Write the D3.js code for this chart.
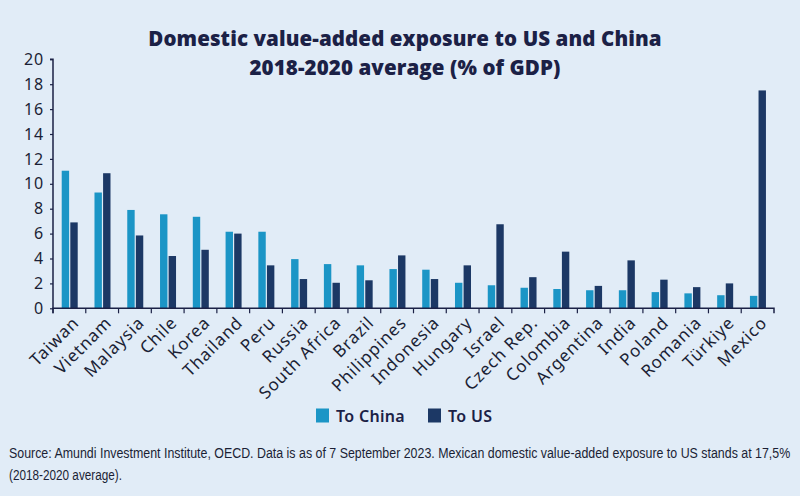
<!DOCTYPE html>
<html><head><meta charset="utf-8">
<script src="https://cdn.jsdelivr.net/npm/d3@7"></script>
<style>
body{margin:0;background:#e1ecf7;}
svg{display:block;}
</style></head>
<body>
<svg id="chart" width="800" height="496"></svg>
<script>
const categories = ["Taiwan","Vietnam","Malaysia","Chile","Korea","Thailand","Peru","Russia","South Africa","Brazil","Philippines","Indonesia","Hungary","Israel","Czech Rep.","Colombia","Argentina","India","Poland","Romania","Türkiye","Mexico"];
const toChina = [11.05,9.3,7.9,7.55,7.35,6.15,6.15,3.95,3.55,3.45,3.15,3.1,2.05,1.85,1.65,1.55,1.45,1.45,1.3,1.2,1.05,1.0];
const toUS = [6.9,10.85,5.85,4.2,4.7,6.0,3.45,2.35,2.05,2.25,4.25,2.35,3.45,6.75,2.5,4.55,1.8,3.85,2.3,1.7,2.0,17.5];
const yTicks = [0,2,4,6,8,10,12,14,16,18,20];
const seriesNames = ["To China","To US"];
const colors = ["#1b95c6","#1c3865"];

const svg = d3.select("#chart");
svg.append("rect").attr("width",800).attr("height",496).attr("fill","#e1ecf7");

const mLeft = 53, mRight = 774, mTop = 59.3, mBottom = 308.3;
const x = d3.scaleBand().domain(categories).range([mLeft, mRight]).padding(0);
const y = d3.scaleLinear().domain([0,20]).range([mBottom, mTop]);
const bw = x.bandwidth();
const barW = 7.4, gap = 1.2;
const navy = "#1b2146";

// title
[["Domestic value-added exposure to US and China",46],["2018-2020 average (% of GDP)",75]].forEach(([t,yy])=>{
  svg.append("text").attr("x",405).attr("y",yy).attr("text-anchor","middle")
    .attr("font-family","Open Sans").attr("font-weight","800").attr("font-size",20.5).attr("fill",navy)
    .attr("letter-spacing","0.1")
    .text(t);
});

// bars
const g = svg.append("g");
categories.forEach((c,i)=>{
  const cx = x(c) + bw*0.51;
  g.append("rect").attr("x",cx - gap/2 - barW).attr("y",y(toChina[i])).attr("width",barW)
    .attr("height",y(0)-y(toChina[i])).attr("fill",colors[0]);
  g.append("rect").attr("x",cx + gap/2).attr("y",y(toUS[i])).attr("width",barW)
    .attr("height",y(0)-y(toUS[i])).attr("fill",colors[1]);
});

// y axis
const yAxis = d3.axisLeft(y).tickValues(yTicks).tickSize(3).tickPadding(6).tickFormat(d3.format("d"));
const ya = svg.append("g").attr("transform",`translate(${mLeft},0)`).call(yAxis);
ya.select(".domain").attr("stroke",navy).attr("stroke-width",1.5).attr("d",`M-3,${mTop}H0V${mBottom}`);
ya.selectAll(".tick line").attr("stroke",navy).attr("stroke-width",1.2);
ya.selectAll(".tick text").attr("font-family","Noto Sans").attr("font-size",16).attr("letter-spacing","0.8").attr("fill","#1b1f35");

// x axis
const xAxis = d3.axisBottom(x).tickSize(5).tickPadding(4);
const xa = svg.append("g").attr("transform",`translate(0,${mBottom})`).call(xAxis);
xa.select(".domain").attr("stroke",navy).attr("stroke-width",1.5).attr("d",`M${mLeft},5V0H${mRight}V5`);
xa.selectAll(".tick line").attr("stroke",navy).attr("stroke-width",1.2)
  .attr("transform",`translate(${-bw/2},0)`);
xa.selectAll(".tick text").attr("font-family","Noto Sans").attr("font-size",17).attr("letter-spacing","0.9").attr("fill","#1b1f35")
  .attr("text-anchor","end").attr("dy","0.35em")
  .attr("transform","translate(0,5) rotate(-45)");

// legend
const leg = svg.append("g");
const legItems = [{x:316,name:seriesNames[0],c:colors[0]},{x:428,name:seriesNames[1],c:colors[1]}];
legItems.forEach(d=>{
  leg.append("rect").attr("x",d.x).attr("y",408.5).attr("width",13).attr("height",14).attr("fill",d.c);
  leg.append("text").attr("x",d.x+20).attr("y",421.5).attr("font-family","Noto Sans").attr("font-weight","600")
    .attr("font-size",16).attr("letter-spacing","0.3").attr("fill",navy).text(d.name);
});

// source (condensed by horizontal scaling)
function condensed(txt, x0, y0, width){
  const t = svg.append("text").attr("font-family","Liberation Sans, sans-serif")
    .attr("font-size",15).attr("fill","#1b1f35").text(txt);
  const w = t.node().getComputedTextLength();
  t.attr("transform",`translate(${x0},${y0}) scale(${width/w},1)`);
}
condensed("Source: Amundi Investment Institute, OECD. Data is as of 7 September 2023. Mexican domestic value-added exposure to US stands at 17,5%", 9, 458, 782);
condensed("(2018-2020 average).", 9, 480, 113);
</script>
</body></html>
